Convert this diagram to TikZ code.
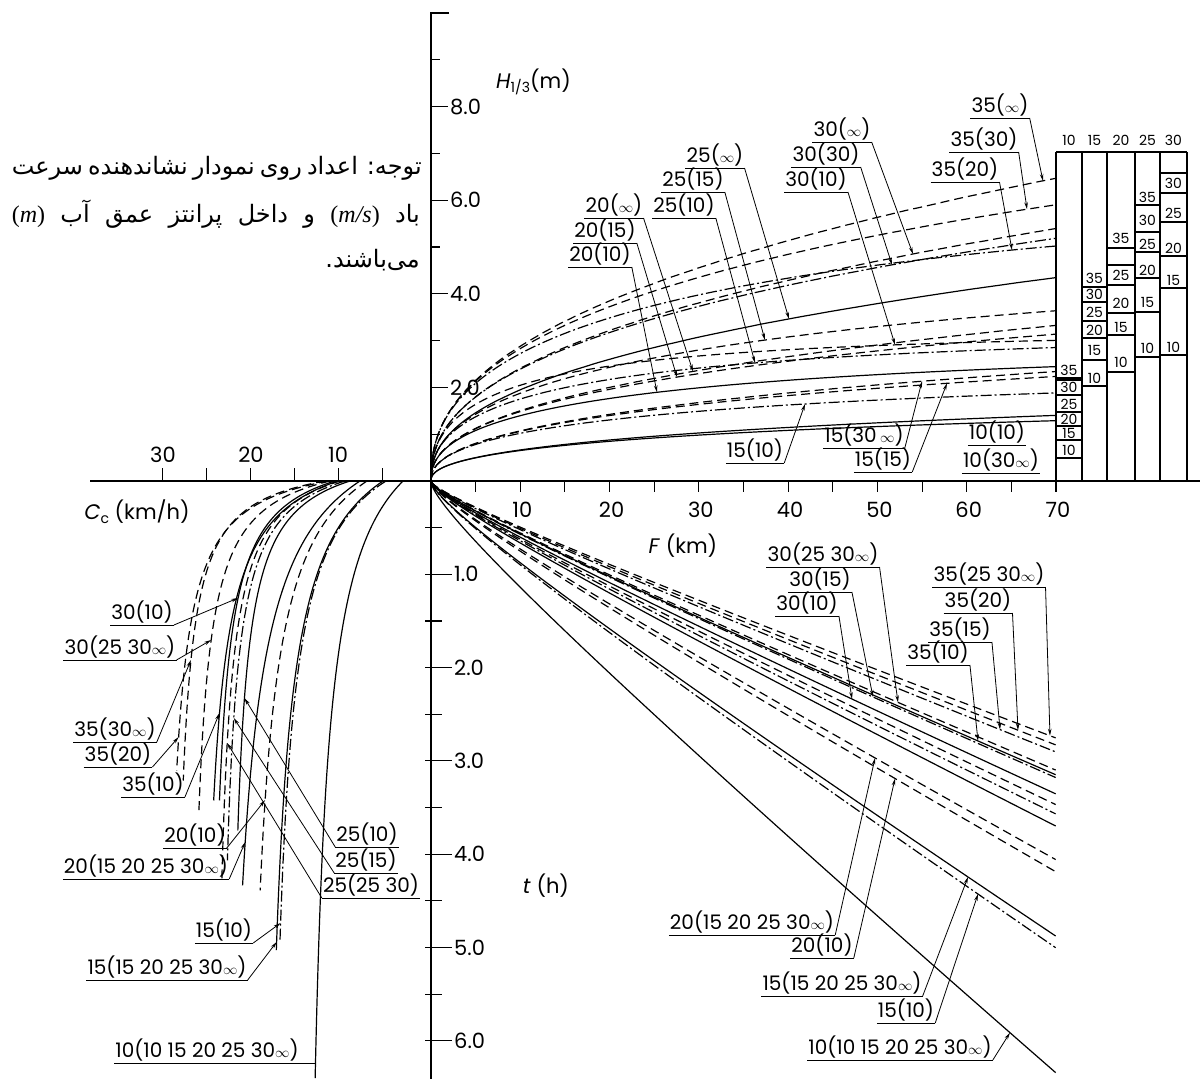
\documentclass[tikz,border=0pt]{standalone}
\usepackage{fontspec}
\setmainfont{Poppins}
\newfontfamily\fa[Script=Arabic]{DejaVu Sans}
\newfontfamily\tnr{Liberation Serif}
\TeXXeTstate=1
\usetikzlibrary{arrows.meta}
\newcommand{\oo}{{\fontsize{15}{15}\selectfont$\infty$}}
\newcommand{\hcurve}[3]{\draw[#1] (431,481) -- plot[domain=0.01:1,samples=70,smooth] ({fx(70*\x*\x)},{hy(70*\x*\x,#2,#3)});}
\newcommand{\tcurve}[2]{\draw[#1] (431,481) -- plot[domain=0.01:1,samples=70,smooth] ({fx(70*\x*\x)},{ty(70*\x*\x,#2)});}
\newcommand{\ccurve}[5]{\draw[#1] plot[domain=0:1,samples=70,smooth] ({cx(#5*\x*\x,#2,#3,#4)},{481+#5*\x*\x});}
\newcommand{\clab}[4]{\node[lbl] (#1) at (#2,#3) {#4};\draw[ul] (#1.south west) -- (#1.south east);}
\begin{document}
\begin{tikzpicture}[x=1pt,y=-1pt,line cap=butt,
  declare function={
    fx(\F)=431+8.929*\F;
    hy(\F,\h,\k)=481-46.8*\h*tanh(\k*(\F)^0.42/\h);
    ty(\F,\T)=481+93.3*\T*(0.0764*\F+0.1184*sqrt(\F))/6.339;
    cx(\s,\a,\b,\c)=\b+(\a-\b)*\c/(\c+\s);
  },
  crv/.style={line width=1.2pt},
  sol/.style={crv},
  dsh/.style={crv,dash pattern=on 9pt off 5pt},
  ddot/.style={crv,dash pattern=on 11pt off 3pt on 2pt off 3pt},
  lead/.style={line width=0.8pt,-{Stealth[length=7pt,width=3.5pt]}},
  ul/.style={line width=0.9pt},
  ax/.style={line width=1.6pt},
  tk/.style={line width=1.1pt},
  tb/.style={line width=1.1pt},
  lbl/.style={font=\fontsize{20}{20}\selectfont,inner xsep=1pt,inner ysep=1.5pt,anchor=south},
  axl/.style={font=\fontsize{21}{21}\selectfont,inner sep=1pt},
  tbl/.style={font=\fontsize{14}{14}\selectfont,inner sep=0.5pt},
  note/.style={anchor=east,inner sep=0,font=\fa\fontsize{24}{24}\selectfont}]
\path[use as bounding box,fill=white] (0,0) rectangle (1204,1079);

% ---------------- axes ----------------
\draw[ax] (449,13) -- (431,13) -- (431,1079);
\draw[ax] (90,481) -- (1200,481);
\foreach \k in {1,...,14} \draw[tk] ({431+44.645*\k},481) -- ++(0,11);
\foreach \c in {5,10,...,30} \draw[tk] ({426-8.77*\c},481) -- ++(0,-13);
\foreach \k in {1,3,5,7,9} \draw[tk] (431,{481-46.8*\k}) -- ++(9,0);
\foreach \k in {2,4,6,8} \draw[tk] (431,{481-46.8*\k}) -- ++(17,0);
\foreach \k in {0.5,1.5,...,5.5} \draw[tk] (425,{481+93.3*\k}) -- (442,{481+93.3*\k});
\foreach \k in {1,...,6} \draw[tk] (425,{481+93.3*\k}) -- (452,{481+93.3*\k});

\foreach \k in {1,...,7} \node[axl] (fl\k) at ({431+89.29*\k+2},510) {\k0};
\node[axl] (cl30) at (163,455) {30};
\node[axl] (cl20) at (251,455) {20};
\node[axl] (cl10) at (338,455) {10};
\foreach \k in {2,4,6,8} \node[axl,anchor=west] (hl\k) at (449,{481-46.8*\k}) {\k.0};
\foreach \k in {1,...,6} \node[axl,anchor=west] (tl\k) at (453,{481+93.3*\k}) {\k.0};
\node[axl,anchor=west] (hlab) at (495,82) {\textit{H}\raisebox{-4pt}{\fontsize{14}{14}\selectfont 1/3}(m)};
\node[axl] (flab) at (683,546) {\textit{F} (km)};
\node[axl] (tlab) at (546,886) {\textit{t} (h)};
\node[axl] (clab) at (137,512) {\textit{C}\raisebox{-4pt}{\fontsize{14}{14}\selectfont c} (km/h)};

% ---------------- note ----------------
\node[note] (n1) at (420,168) {\hbox to 408pt{\beginR توجه: اعداد روی نمودار نشاندهنده سرعت\endR}};
\node[note] (n2) at (420,214) {\hbox to 408pt{\beginR باد {\beginL\tnr(\textit{m/s})\endL} و داخل پرانتز عمق آب {\beginL\tnr(\textit{m})\endL}\endR}};
\node[note] (n3) at (420,260) {\beginR می‌باشند.\endR};

% ---------------- table ----------------
\foreach \xx in {1056,1082,1107,1135,1160,1187} \draw[tb] (\xx,152) -- (\xx,481);
\draw[tb] (1056,152) -- (1187,152);
\node[tbl] (th1) at (1069,140) {10};
\node[tbl] (th2) at (1094.5,140) {15};
\node[tbl] (th3) at (1121,140) {20};
\node[tbl] (th4) at (1147.5,140) {25};
\node[tbl] (th5) at (1173.5,140) {30};
\foreach \t/\ly/\ln in {35/370/378,30/387/395,25/404/412,20/419/426,15/433/440,10/450/458}
  {\draw[tb] (1056,\ln) -- (1082,\ln); \node[tbl] (ta\t) at (1069,\ly) {\t};}
\draw[tb] (1056,380) -- (1082,380);
\foreach \t/\ly/\ln in {35/278/287,30/294/302,25/312/321,20/330/338,15/350/360,10/378/386}
  {\draw[tb] (1082,\ln) -- (1107,\ln); \node[tbl] (tb\t) at (1094.5,\ly) {\t};}
\foreach \t/\ly/\ln in {35/238/248,25/275/285,20/303/313,15/327/335,10/362/372}
  {\draw[tb] (1107,\ln) -- (1135,\ln); \node[tbl] (tc\t) at (1121,\ly) {\t};}
\draw[tb] (1107,265) -- (1135,265);
\foreach \t/\ly/\ln in {35/197/205,30/220/232,25/244/252,20/270/278,15/302/312,10/348/357}
  {\draw[tb] (1135,\ln) -- (1160,\ln); \node[tbl] (td\t) at (1147.5,\ly) {\t};}
\foreach \t/\ly/\ln in {30/183/193,25/213/222,20/248/256,15/280/288,10/347/355}
  {\draw[tb] (1160,\ln) -- (1187,\ln); \node[tbl] (te\t) at (1173.5,\ly) {\t};}
\draw[tb] (1160,173) -- (1187,173);

% ---------------- H curves (upper right) ----------------
\hcurve{dsh}{35.3}{1.1}
\hcurve{dsh}{11.3}{1.1}
\hcurve{ddot}{6.65}{1.1}
\hcurve{dsh}{25.96}{0.92}
\hcurve{ddot}{13.3}{0.92}
\hcurve{dsh}{3.21}{0.92}
\hcurve{sol}{18.03}{0.745}
\hcurve{dsh}{5.35}{0.745}
\hcurve{ddot}{3.25}{0.745}
\hcurve{dsh}{11.54}{0.575}
\hcurve{dsh}{6.5}{0.575}
\hcurve{sol}{3.0}{0.575}
\hcurve{dsh}{6.49}{0.4115}
\hcurve{dsh}{4.5}{0.4115}
\hcurve{ddot}{2.5}{0.4115}
\hcurve{sol}{2.885}{0.2573}
\hcurve{sol}{2.0}{0.2573}

\coordinate (u35i) at ({fx(68.54)},{hy(68.54,35.3,1.1)});
\coordinate (u35c) at ({fx(66.75)},{hy(66.75,11.3,1.1)});
\coordinate (u35b) at ({fx(65.07)},{hy(65.07,6.65,1.1)});
\coordinate (u30i) at ({fx(53.98)},{hy(53.98,25.96,0.92)});
\coordinate (u30c) at ({fx(51.63)},{hy(51.63,13.3,0.92)});
\coordinate (u30a) at ({fx(51.97)},{hy(51.97,3.21,0.92)});
\coordinate (u25i) at ({fx(40.09)},{hy(40.09,18.03,0.745)});
\coordinate (u25b) at ({fx(37.40)},{hy(37.40,5.35,0.745)});
\coordinate (u25a) at ({fx(36.29)},{hy(36.29,3.25,0.745)});
\coordinate (u20i) at ({fx(29.34)},{hy(29.34,11.54,0.575)});
\coordinate (u20b) at ({fx(27.55)},{hy(27.55,6.5,0.575)});
\coordinate (u20a) at ({fx(25.31)},{hy(25.31,3.0,0.575)});
\coordinate (u15c) at ({fx(54.99)},{hy(54.99,6.49,0.4115)});
\coordinate (u15b) at ({fx(57.79)},{hy(57.79,4.5,0.4115)});
\coordinate (u15a) at ({fx(41.89)},{hy(41.89,2.5,0.4115)});

\clab{a35i}{1000}{118}{35(\oo)}      \draw[lead] (a35i.south east) -- (u35i);
\clab{a35c}{984}{152}{35(30)}        \draw[lead] (a35c.south east) -- (u35c);
\clab{a35b}{965}{182}{35(20)}        \draw[lead] (a35b.south east) -- (u35b);
\clab{a30i}{842}{142}{30(\oo)}       \draw[lead] (a30i.south east) -- (u30i);
\clab{a30c}{826}{167}{30(30)}        \draw[lead] (a30c.south east) -- (u30c);
\clab{a30a}{816}{192}{30(10)}        \draw[lead] (a30a.south east) -- (u30a);
\clab{a25i}{715}{168}{25(\oo)}       \draw[lead] (a25i.south east) -- (u25i);
\clab{a25b}{693}{192}{25(15)}        \draw[lead] (a25b.south east) -- (u25b);
\clab{a25a}{684}{218}{25(10)}        \draw[lead] (a25a.south east) -- (u25a);
\clab{a20i}{614}{218}{20(\oo)}       \draw[lead] (a20i.south east) -- (u20i);
\clab{a20b}{605}{243}{20(15)}        \draw[lead] (a20b.south east) -- (u20b);
\clab{a20a}{600}{267}{20(10)}        \draw[lead] (a20a.south east) -- (u20a);
\clab{a15c}{864}{448}{15(30\,\oo)}   \draw[lead] (a15c.south east) -- (u15c);
\clab{a15b}{883}{472}{15(15)}        \draw[lead] (a15b.south east) -- (u15b);
\clab{a15a}{755}{463}{15(10)}        \draw[lead] (a15a.south east) -- (u15a);
\clab{a10a}{997}{445}{10(10)}
\clab{a10c}{1001}{473}{10(30\oo)}

% ---------------- t curves (lower right) ----------------
\tcurve{dsh}{2.755}
\tcurve{dsh}{2.83}
\tcurve{ddot}{2.905}
\tcurve{sol}{3.15}
\tcurve{dsh}{3.10}
\tcurve{ddot}{3.18}
\tcurve{sol}{3.355}
\tcurve{dsh}{3.47}
\tcurve{ddot}{3.57}
\tcurve{sol}{3.70}
\tcurve{dsh}{4.06}
\tcurve{dsh}{4.19}
\tcurve{sol}{4.88}
\tcurve{ddot}{5.005}
\tcurve{sol}{6.345}

\coordinate (v35d) at ({fx(69.32)},{ty(69.32,2.755)});
\coordinate (v35c) at ({fx(65.74)},{ty(65.74,2.83)});
\coordinate (v35b) at ({fx(63.73)},{ty(63.73,2.905)});
\coordinate (v35a) at ({fx(61.26)},{ty(61.26,3.15)});
\coordinate (v30c) at ({fx(52.30)},{ty(52.30,3.10)});
\coordinate (v30b) at ({fx(49.50)},{ty(49.50,3.18)});
\coordinate (v30a) at ({fx(47.15)},{ty(47.15,3.355)});
\coordinate (v20b) at ({fx(49.73)},{ty(49.73,4.06)});
\coordinate (v20a) at ({fx(51.97)},{ty(51.97,4.19)});
\coordinate (v15b) at ({fx(60.14)},{ty(60.14,4.88)});
\coordinate (v15a) at ({fx(61.26)},{ty(61.26,5.005)});
\coordinate (v10) at ({fx(64.84)},{ty(64.84,6.345)});

\clab{b30c}{823}{567}{30(25 30\oo)}  \draw[lead] (b30c.south east) -- (v30c);
\clab{b30b}{820}{592}{30(15)}        \draw[lead] (b30b.south east) -- (v30b);
\clab{b30a}{807}{616}{30(10)}        \draw[lead] (b30a.south east) -- (v30a);
\clab{b35d}{989}{587}{35(25 30\oo)}  \draw[lead] (b35d.south east) -- (v35d);
\clab{b35c}{978}{613}{35(20)}        \draw[lead] (b35c.south east) -- (v35c);
\clab{b35b}{960}{642}{35(15)}        \draw[lead] (b35b.south east) -- (v35b);
\clab{b35a}{938}{665}{35(10)}        \draw[lead] (b35a.south east) -- (v35a);
\clab{b20b}{752}{935}{20(15 20 25 30\oo)} \draw[lead] (b20b.south east) -- (v20b);
\clab{b20a}{822}{958}{20(10)}        \draw[lead] (b20a.south east) -- (v20a);
\clab{b15b}{842}{996}{15(15 20 25 30\oo)} \draw[lead] (b15b.south east) -- (v15b);
\clab{b15a}{906}{1023}{15(10)}       \draw[lead] (b15a.south east) -- (v15a);
\clab{b10}{900}{1060}{10(10 15 20 25 30\oo)} \draw[lead] (b10.south east) -- (v10);

% ---------------- Cc curves (lower left) ----------------
\ccurve{sol}{403}{300}{103}{598}
\ccurve{sol}{383}{257}{85}{470}
\ccurve{ddot}{386}{262}{78}{462}
\ccurve{sol}{360}{215}{95}{405}
\ccurve{dsh}{367}{238}{85}{410}
\ccurve{sol}{350}{225}{40}{350}
\ccurve{ddot}{345}{215}{40}{380}
\ccurve{dsh}{340}{210}{40}{400}
\ccurve{sol}{335}{205}{40}{320}
\ccurve{dsh}{330}{185}{35}{330}
\ccurve{sol}{338}{195}{48}{320}
\ccurve{dsh}{328}{160}{32}{290}
\ccurve{dsh}{325}{170}{28}{300}

\coordinate (w30a) at ({cx(117,335,205,40)},598);
\coordinate (w30c) at ({cx(159,330,185,35)},640);
\coordinate (w35c) at ({cx(179,325,170,28)},660);
\coordinate (w35b) at ({cx(256,328,160,32)},737);
\coordinate (w35a) at ({cx(232,338,195,48)},713);
\coordinate (w20a) at ({cx(319,367,238,85)},800);
\coordinate (w20b) at ({cx(361,360,215,95)},842);
\coordinate (w25a) at ({cx(217,350,225,40)},698);
\coordinate (w25b) at ({cx(237,345,215,40)},718);
\coordinate (w25c) at ({cx(262,340,210,40)},743);
\coordinate (w15a) at ({cx(442,386,262,78)},923);
\coordinate (w15b) at ({cx(461,383,257,85)},942);
\coordinate (w10) at ({cx(582,403,300,103)},1063);

\clab{c30a}{142}{625}{30(10)}        \draw[lead] (c30a.south east) -- (w30a);
\clab{c30c}{120}{660}{30(25 30\oo)}  \draw[lead] (c30c.south east) -- (w30c);
\clab{c35c}{115}{742}{35(30\oo)}     \draw[lead] (c35c.south east) -- (w35c);
\clab{c35b}{118}{767}{35(20)}        \draw[lead] (c35b.south east) -- (w35b);
\clab{c35a}{153}{797}{35(10)}        \draw[lead] (c35a.south east) -- (w35a);
\clab{c20a}{195}{848}{20(10)}        \draw[lead] (c20a.south east) -- (w20a);
\clab{c20b}{146}{879}{20(15 20 25 30\oo)} \draw[lead] (c20b.south east) -- (w20b);
\clab{c25a}{367}{847}{25(10)}        \draw[lead] (c25a.south west) -- (w25a);
\clab{c25b}{366}{873}{25(15)}        \draw[lead] (c25b.south west) -- (w25b);
\clab{c25c}{371}{898}{25(25 30)}     \draw[lead] (c25c.south west) -- (w25c);
\clab{c15a}{224}{943}{15(10)}        \draw[lead] (c15a.south east) -- (w15a);
\clab{c15b}{167}{980}{15(15 20 25 30\oo)} \draw[lead] (c15b.south east) -- (w15b);
\clab{c10}{207}{1063}{10(10 15 20 25 30\oo)} \draw[ul] (c10.south east) -- (w10);
\end{tikzpicture}
\end{document}
